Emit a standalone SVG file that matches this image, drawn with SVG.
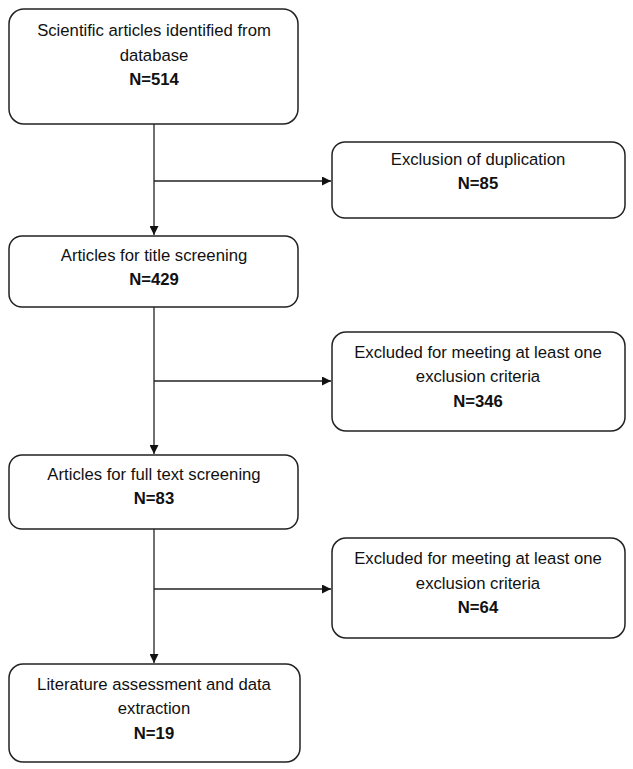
<svg xmlns="http://www.w3.org/2000/svg" width="633" height="769" viewBox="0 0 633 769">
<defs>
<marker id="ah" viewBox="0 0 10 10" refX="10" refY="5" markerWidth="9" markerHeight="9" markerUnits="userSpaceOnUse" orient="auto">
<path d="M0,0 L10,5 L0,10 Z" fill="#111"/>
</marker>
</defs>
<style>
.box{fill:#fff;stroke:#222;stroke-width:1.5}
.t{font-family:"Liberation Sans",Arial,sans-serif;font-size:16.7px;fill:#111;text-anchor:middle}
.b{font-weight:bold}
.c{fill:none;stroke:#222;stroke-width:1.3}
</style>
<rect width="633" height="769" fill="#fff"/>
<g id="connectors">
<path class="c" d="M154,124 V235" marker-end="url(#ah)"/>
<path class="c" d="M154,181 H331" marker-end="url(#ah)"/>
<path class="c" d="M154,307 V454" marker-end="url(#ah)"/>
<path class="c" d="M154,381 H331" marker-end="url(#ah)"/>
<path class="c" d="M154,529 V663" marker-end="url(#ah)"/>
<path class="c" d="M154,589 H331" marker-end="url(#ah)"/>
</g>
<g id="n1">
<rect class="box" x="9" y="9" width="289" height="115" rx="15"/>
<text class="t" x="154" y="36">Scientific articles identified from</text>
<text class="t" x="154" y="61">database</text>
<text class="t b" x="154" y="85">N=514</text>
</g>
<g id="n2">
<rect class="box" x="332" y="142" width="293" height="76" rx="13"/>
<text class="t" x="478" y="165">Exclusion of duplication</text>
<text class="t b" x="478" y="189">N=85</text>
</g>
<g id="n3">
<rect class="box" x="9" y="236" width="289" height="71" rx="13"/>
<text class="t" x="154" y="261">Articles for title screening</text>
<text class="t b" x="154" y="285">N=429</text>
</g>
<g id="n4">
<rect class="box" x="332" y="332" width="293" height="99" rx="14"/>
<text class="t" x="478" y="358">Excluded for meeting at least one</text>
<text class="t" x="478" y="382">exclusion criteria</text>
<text class="t b" x="478" y="407">N=346</text>
</g>
<g id="n5">
<rect class="box" x="9" y="455" width="289" height="74" rx="13"/>
<text class="t" x="154" y="480">Articles for full text screening</text>
<text class="t b" x="154" y="504">N=83</text>
</g>
<g id="n6">
<rect class="box" x="332" y="538" width="293" height="100" rx="14"/>
<text class="t" x="478" y="564">Excluded for meeting at least one</text>
<text class="t" x="478" y="589">exclusion criteria</text>
<text class="t b" x="478" y="613">N=64</text>
</g>
<g id="n7">
<rect class="box" x="9" y="664" width="291" height="98" rx="14"/>
<text class="t" x="154" y="690">Literature assessment and data</text>
<text class="t" x="154" y="714">extraction</text>
<text class="t b" x="154" y="739">N=19</text>
</g>
</svg>
